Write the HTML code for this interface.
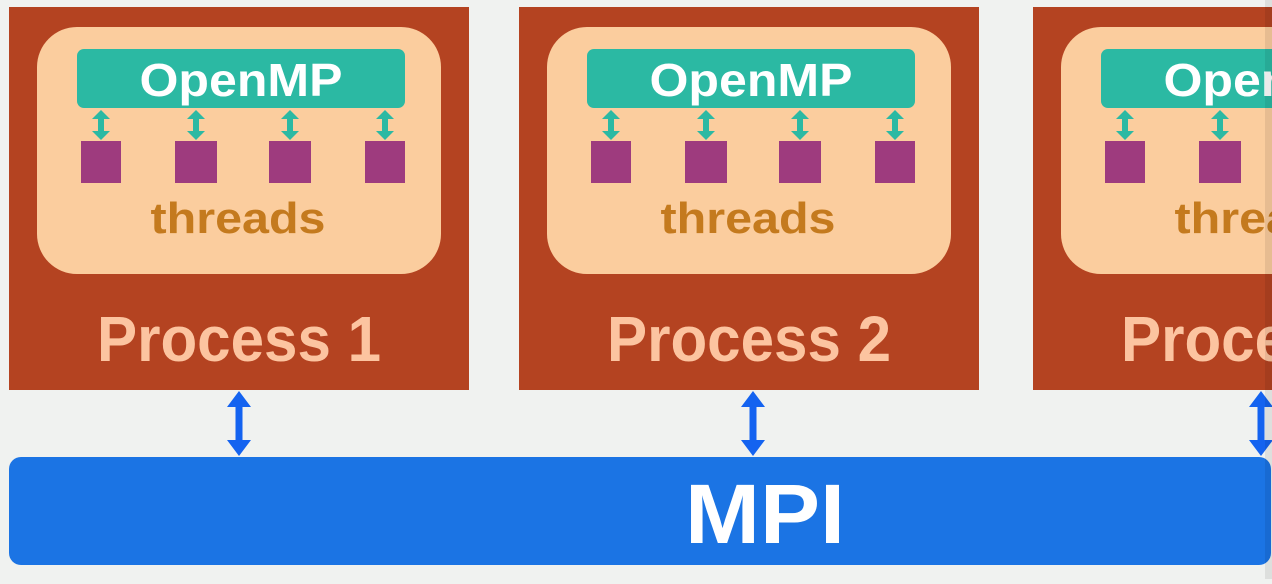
<!DOCTYPE html>
<html><head><meta charset="utf-8"><style>html,body{margin:0;padding:0;background:#f0f2f0;overflow:hidden}</style></head>
<body>
<svg width="1272" height="579" viewBox="0 0 1272 579" xmlns="http://www.w3.org/2000/svg" font-family="Liberation Sans, sans-serif" font-weight="bold">
<defs>
<g id="tarr">
  <polygon points="0,0 9,9 3,9 3,21 9,21 0,30 -9,21 -3,21 -3,9 -9,9" fill="#2bb9a3"/>
</g>
<g id="panel">
  <rect x="0" y="0" width="460" height="383" fill="#b44321"/>
  <rect x="28" y="20" width="404" height="247" rx="40" fill="#fbcd9e"/>
  <rect x="68" y="42" width="328" height="59" rx="7" fill="#2bb9a3"/>
  <text x="232" y="89" fill="#fff" font-size="46" text-anchor="middle" textLength="203" lengthAdjust="spacingAndGlyphs">OpenMP</text>
  <use href="#tarr" x="92" y="103"/>
  <use href="#tarr" x="187" y="103"/>
  <use href="#tarr" x="281" y="103"/>
  <use href="#tarr" x="376" y="103"/>
  <rect x="72" y="134" width="40" height="42" fill="#9e3b7e"/>
  <rect x="166" y="134" width="42" height="42" fill="#9e3b7e"/>
  <rect x="260" y="134" width="42" height="42" fill="#9e3b7e"/>
  <rect x="356" y="134" width="40" height="42" fill="#9e3b7e"/>
  <text x="229" y="226" fill="#c47a1e" font-size="44" text-anchor="middle" textLength="175" lengthAdjust="spacingAndGlyphs">threads</text>
</g>
<g id="barr">
  <polygon points="0,0 12,16 3.5,16 3.5,49 12,49 0,65 -12,49 -3.5,49 -3.5,16 -12,16" fill="#1463f0"/>
</g>
</defs>
<use href="#panel" x="9" y="7"/>
<text x="239" y="361" fill="#fcc4a0" font-size="64" text-anchor="middle" textLength="284" lengthAdjust="spacingAndGlyphs">Process 1</text>
<use href="#panel" x="519" y="7"/>
<text x="749" y="361" fill="#fcc4a0" font-size="64" text-anchor="middle" textLength="284" lengthAdjust="spacingAndGlyphs">Process 2</text>
<use href="#panel" x="1033" y="7"/>
<text x="1121" y="361" fill="#fcc4a0" font-size="64" textLength="284" lengthAdjust="spacingAndGlyphs">Process 3</text>
<rect x="9" y="457" width="1262" height="108" rx="12" fill="#1b74e4"/>
<text x="765" y="543" fill="#fff" font-size="84" text-anchor="middle" textLength="160" lengthAdjust="spacingAndGlyphs">MPI</text>
<use href="#barr" x="239" y="391"/>
<use href="#barr" x="753" y="391"/>
<use href="#barr" x="1261" y="391"/>
<rect x="1265" y="0" width="7" height="579" fill="#000" opacity="0.08"/>
</svg>
</body></html>
